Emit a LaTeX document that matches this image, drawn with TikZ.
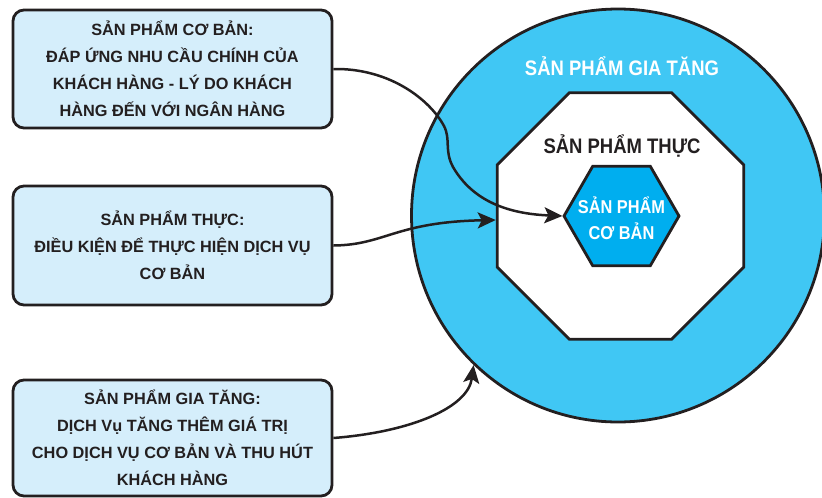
\documentclass[tikz,border=0pt]{standalone}
\usepackage{fontspec}
\setmainfont{Liberation Sans}
\newfontfamily\condfont[FakeStretch=0.88]{Liberation Sans}
\usetikzlibrary{arrows.meta,shapes.geometric}
\definecolor{ink}{HTML}{231F20}
\definecolor{ring}{HTML}{40C7F4}
\definecolor{core}{HTML}{00AEEF}
\definecolor{boxfill}{HTML}{D5EEFB}
\begin{document}
\begin{tikzpicture}[x=1pt,y=-1pt,
  infobox/.style={draw=ink, line width=2.8pt, fill=boxfill, rounded corners=11pt,
    minimum width=319pt, align=center, text=ink, inner sep=0pt,
    font=\bfseries\fontsize{16.3}{27}\selectfont},
  shapeline/.style={draw=ink, line width=2.8pt, inner sep=0pt},
  title/.style={font=\condfont\bfseries\fontsize{21}{25}\selectfont, anchor=base},
  link/.style={draw=ink, line width=2.5pt, -{Stealth[length=18pt,width=16pt,inset=4pt]}}]
\useasboundingbox (0,0) rectangle (822,498);

% nested shapes
\node[circle, shapeline, fill=ring, minimum size=413pt] (outer) at (618,215.5) {};
\node[regular polygon, regular polygon sides=8, shapeline, fill=white, minimum size=267pt] (real) at (620.5,216) {};
\node[regular polygon, regular polygon sides=6, shapeline, fill=core, minimum size=115pt] (core) at (621.5,216) {};

\node[title, text=white] (tAug) at (622,75) {SẢN PHẨM GIA TĂNG};
\node[title, text=ink] (tReal) at (622,153) {SẢN PHẨM THỰC};
\node[font=\condfont\bfseries\fontsize{18.6}{26}\selectfont, text=white, anchor=base] (tCore1) at (621.5,213) {SẢN PHẨM};
\node[font=\condfont\bfseries\fontsize{18.6}{26}\selectfont, text=white, anchor=base] (tCore2) at (621.5,239) {CƠ BẢN};

% info boxes
\node[infobox, minimum height=118pt] (b1) at (172.5,69)
  {SẢN PHẨM CƠ BẢN:\\ĐÁP ỨNG NHU CẦU CHÍNH CỦA\\KHÁCH HÀNG - LÝ DO KHÁCH\\HÀNG ĐẾN VỚI NGÂN HÀNG};
\node[infobox, minimum height=119pt] (b2) at (172.5,245.5)
  {SẢN PHẨM THỰC:\\ĐIỀU KIỆN ĐỂ THỰC HIỆN DỊCH VỤ\\CƠ BẢN};
\node[infobox, minimum height=116pt] (b3) at (172.5,438)
  {SẢN PHẨM GIA TĂNG:\\DỊCH Vụ TĂNG THÊM GIÁ TRỊ\\CHO DỊCH VỤ CƠ BẢN VÀ THU HÚT\\KHÁCH HÀNG};

% connectors
\draw[link] (b1.east) .. controls (390,68) and (430,100) .. (444,126)
  .. controls (451,140) and (444,150) .. (453,167)
  .. controls (475,205) and (515,214) .. (core.west);
\draw[link] (b2.east) .. controls (385,245) and (395,222) .. ([yshift=-4pt]real.west);
\draw[link] (b3.east) .. controls (410,432) and (468,408) .. (outer.226);
\end{tikzpicture}
\end{document}
